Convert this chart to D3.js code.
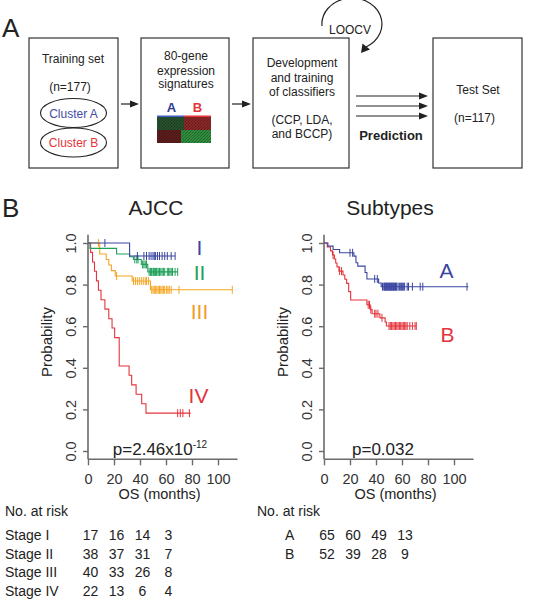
<!DOCTYPE html>
<html><head><meta charset="utf-8">
<script src="https://cdn.jsdelivr.net/npm/d3@7"></script>
<style>
body{margin:0;background:#fff}
svg{display:block}
text{font-family:"Liberation Sans",Arial,Helvetica,sans-serif;fill:#222}
</style>
</head><body>
<svg id="c" width="533" height="599"></svg>
<script>
// ---------------- DATA ----------------
const monthTicks = [0, 20, 40, 60, 80, 100];
const probTicks = [0, 0.2, 0.4, 0.6, 0.8, 1.0];

// AJCC stage curves (step times in months, survival after each step)
const stageI_t = [0, 32];
const stageI_s = [1, 0.9375];
const stageI_end = 67;
const stageI_cens = [13, 38, 43, 45, 47, 48.5, 50, 51, 52, 53.5, 55, 57, 59, 61, 64, 67];

const stageII_t = [0, 1.5, 22, 32, 35, 41, 46];
const stageII_s = [1, 0.974, 0.947, 0.934, 0.921, 0.897, 0.861];
const stageII_end = 69;
const stageII_cens = [36, 37.5, 38.5, 42, 43, 44, 45, 47, 48, 48.5, 49, 50, 50.5, 51, 52, 52.5, 53, 54, 55, 56, 57, 58, 59, 61, 62, 63, 64, 65, 67, 69];

const stageIII_t = [0, 9, 14, 16, 18, 21, 34, 48];
const stageIII_s = [1, 0.947, 0.921, 0.894, 0.867, 0.841, 0.817, 0.775];
const stageIII_end = 111;
const stageIII_cens = [8, 22, 35, 36.5, 38, 39.5, 41, 42.5, 44, 45, 46.5, 49, 50, 51, 52, 53, 54, 55, 56, 57, 58, 59, 60.5, 61.5, 62.5, 64, 70, 111];

const stageIV_t = [0, 2, 3.5, 5, 6.5, 8, 10, 13, 16, 18.5, 20.5, 24, 31.6, 33.6, 37, 41.3, 44.6];
const stageIV_s = [1, 0.955, 0.909, 0.864, 0.818, 0.773, 0.727, 0.682, 0.636, 0.591, 0.545, 0.409, 0.364, 0.318, 0.273, 0.227, 0.182];
const stageIV_end = 79;
const stageIV_cens = [69, 71, 73, 78];

// Subtype curves
const subA_t = [0, 3, 7, 12, 23, 24.6, 26, 31.6, 33, 42, 44];
const subA_s = [1, 0.985, 0.969, 0.953, 0.937, 0.905, 0.889, 0.858, 0.827, 0.808, 0.79];
const subA_end = 111;
const subA_cens = [20, 22, 39, 41, 45, 46, 46.5, 47, 47.5, 48, 48.5, 49, 49.5, 50, 50.5, 51, 51.5, 52, 52.5, 53, 53.5, 54, 54.5, 55, 55.5, 56, 57, 58, 59, 59.5, 60.5, 61, 62, 64, 65, 68, 74, 76, 110];

const subB_t = [0, 2.5, 5, 6.5, 8, 9, 10, 11.5, 14.6, 16, 17.4, 19, 20.5, 33, 35.5, 37, 43, 47, 48];
const subB_s = [1, 0.981, 0.962, 0.942, 0.923, 0.904, 0.885, 0.865, 0.846, 0.826, 0.806, 0.766, 0.726, 0.703, 0.68, 0.66, 0.64, 0.62, 0.601];
const subB_end = 71;
const subB_cens = [7, 12, 13.5, 34, 35, 36, 39, 40, 41.5, 44.6, 50, 51, 52, 53, 54, 55, 56, 57, 58, 59, 60, 61, 62, 63, 64, 66, 68, 70, 71];

// numbers at risk
const riskTimes = [0, 20, 40, 60];
const stageNames = ["Stage I", "Stage II", "Stage III", "Stage IV"];
const riskStage = [[17, 16, 14, 3], [38, 37, 31, 7], [40, 33, 26, 8], [22, 13, 6, 4]];
const subtypeNames = ["A", "B"];
const riskSubtype = [[65, 60, 49, 13], [52, 39, 28, 9]];

// ---------------- DRAWING ----------------
const BLUE = "#3a45a0", GREEN = "#22a05a", ORANGE = "#f5a623", RED = "#e3343b";
const FONT = "'Liberation Sans', Arial, sans-serif";
const svg = d3.select("#c");

function txt(x, y, s, size, opts = {}) {
  const t = svg.append("text").attr("x", x).attr("y", y).text(s)
    .style("font-size", size + "px")
    .attr("text-anchor", opts.anchor || "middle");
  if (opts.fill) t.style("fill", opts.fill);
  if (opts.bold) t.style("font-weight", "bold");
  return t;
}
function arrow(x1, x2, y) {
  svg.append("line").attr("x1", x1).attr("x2", x2 - 6).attr("y1", y).attr("y2", y)
    .attr("stroke", "#222").attr("stroke-width", 1.2);
  svg.append("path").attr("d", `M${x2},${y} L${x2 - 9},${y - 3.5} L${x2 - 9},${y + 3.5} Z`).attr("fill", "#222");
}

// ----- Panel A -----
txt(2, 37, "A", 26, { anchor: "start" });
const boxes = [[29, 38, 89, 130], [141, 38, 88, 130], [253, 38, 96, 130], [433, 38, 89, 130]];
boxes.forEach(b => svg.append("rect").attr("x", b[0]).attr("y", b[1]).attr("width", b[2]).attr("height", b[3])
  .attr("fill", "none").attr("stroke", "#333").attr("stroke-width", 1.2));

txt(73, 63, "Training set", 12);
txt(70, 91, "(n=177)", 12);
svg.append("ellipse").attr("cx", 73.5).attr("cy", 113).attr("rx", 33).attr("ry", 14.5).attr("fill", "none").attr("stroke", "#222").attr("stroke-width", 1.1);
svg.append("ellipse").attr("cx", 73.5).attr("cy", 142.5).attr("rx", 33).attr("ry", 14.5).attr("fill", "none").attr("stroke", "#222").attr("stroke-width", 1.1);
txt(73.5, 117.5, "Cluster A", 12, { fill: "#454ba3" });
txt(73.5, 147, "Cluster B", 12, { fill: RED });

arrow(121, 139, 104);
txt(186, 60, "80-gene", 12);
txt(186, 74.5, "expression", 12);
txt(186, 88, "signatures", 12);
txt(171.5, 112, "A", 13, { bold: true, fill: "#2e3d94" });
txt(197.5, 112, "B", 13, { bold: true, fill: RED });

// heatmap thumbnail
const defs = svg.append("defs");
const pat = defs.append("pattern").attr("id", "tex").attr("width", 3).attr("height", 3).attr("patternUnits", "userSpaceOnUse");
pat.append("rect").attr("x", 0).attr("y", 0).attr("width", 1).attr("height", 1).attr("fill", "#000").attr("opacity", 0.3);
pat.append("rect").attr("x", 2).attr("y", 1).attr("width", 1).attr("height", 1).attr("fill", "#000").attr("opacity", 0.25);
pat.append("rect").attr("x", 1).attr("y", 2).attr("width", 1).attr("height", 1).attr("fill", "#000").attr("opacity", 0.2);
const hm = [[157, 117, 27, 13, "#27502c"], [184, 117, 27, 13, "#8a2727"], [157, 130, 24, 13, "#5e1d1d"], [181, 130, 30, 13, "#2f8c3d"]];
hm.forEach(r => {
  svg.append("rect").attr("x", r[0]).attr("y", r[1]).attr("width", r[2]).attr("height", r[3]).attr("fill", r[4]);
  svg.append("rect").attr("x", r[0]).attr("y", r[1]).attr("width", r[2]).attr("height", r[3]).attr("fill", "url(#tex)");
});
svg.append("rect").attr("x", 157).attr("y", 115.5).attr("width", 27).attr("height", 1.6).attr("fill", "#3a5fc0");
svg.append("rect").attr("x", 184).attr("y", 115.5).attr("width", 27).attr("height", 1.6).attr("fill", RED);

arrow(232, 251, 104);
txt(302, 67, "Development", 12);
txt(302, 81.5, "and training", 12);
txt(302, 95.5, "of classifiers", 12);
txt(302, 123.5, "(CCP, LDA,", 12);
txt(302, 138, "and BCCP)", 12);

// LOOCV loop
svg.append("path").attr("d", "M322,26 A30,26 0 1,1 366,47").attr("fill", "none").attr("stroke", "#222").attr("stroke-width", 1.2);
svg.append("path").attr("d", "M361,53 L362.5,43.5 L370,49.5 Z").attr("fill", "#222");
txt(350, 33.5, "LOOCV", 12);

arrow(356, 428, 96);
arrow(356, 428, 106);
arrow(356, 428, 116);
txt(391, 139.5, "Prediction", 13, { bold: true });
txt(478, 93.5, "Test Set", 12);
txt(474.5, 121.5, "(n=117)", 12);

// ----- Panel B -----
txt(2, 217, "B", 26, { anchor: "start" });
txt(156, 215, "AJCC", 21);
txt(390, 215, "Subtypes", 21);

const y = d3.scaleLinear().domain([0, 1]).range([451, 243]);

function panel(x0, curves, labels, pText, pSup, pX) {
  const x = d3.scaleLinear().domain([0, 100]).range([x0, x0 + 130]);
  const g = svg.append("g");
  const axisCol = "#6b6b6b";
  // L-shaped frame
  g.append("line").attr("x1", x0).attr("x2", x0).attr("y1", y(1.04)).attr("y2", y(-0.04)).attr("stroke", axisCol).attr("stroke-width", 1.6);
  g.append("line").attr("x1", x0).attr("x2", x(115)).attr("y1", y(-0.04)).attr("y2", y(-0.04)).attr("stroke", axisCol).attr("stroke-width", 1.6);

  const ax = g.append("g").attr("transform", `translate(0,${y(-0.04)})`)
    .call(d3.axisBottom(x).tickValues(monthTicks).tickSize(6).tickSizeOuter(0).tickFormat(d3.format("d")));
  ax.select(".domain").remove();
  ax.selectAll("line").attr("stroke", axisCol).attr("stroke-width", 1.4);
  ax.selectAll("text").attr("y", 24.5).attr("dy", null).style("font-size", "14.5px").style("font-family", FONT).style("fill", "#333");

  const ay = g.append("g").attr("transform", `translate(${x0},0)`)
    .call(d3.axisLeft(y).tickValues(probTicks).tickSize(5).tickSizeOuter(0).tickFormat(d3.format(".1f")));
  ay.select(".domain").remove();
  ay.selectAll("line").attr("stroke", axisCol).attr("stroke-width", 1.4);
  ay.selectAll("text").attr("x", null).attr("dy", null).attr("text-anchor", "middle")
    .attr("transform", "translate(-12.5,0) rotate(-90)")
    .style("font-size", "14.5px").style("font-family", FONT).style("fill", "#333");

  svg.append("text").attr("transform", `translate(${x0 - 36.5},342) rotate(-90)`).attr("text-anchor", "middle")
    .style("font-size", "15px").text("Probability");
  txt(x(55), 499, "OS (months)", 14.5);

  curves.forEach(c => {
    const pts = c.t.map((t, i) => [t, c.s[i]]);
    pts.push([c.end, c.s[c.s.length - 1]]);
    const line = d3.line().x(d => x(d[0])).y(d => y(d[1])).curve(d3.curveStepAfter);
    g.append("path").attr("d", line(pts)).attr("fill", "none").attr("stroke", c.color).attr("stroke-width", 1.1);
    const lvl = v => c.s[d3.bisectRight(c.t, v) - 1];
    g.selectAll(null).data(c.cens).join("line")
      .attr("x1", d => x(d)).attr("x2", d => x(d))
      .attr("y1", d => y(lvl(d)) - 4).attr("y2", d => y(lvl(d)) + 4)
      .attr("stroke", c.color).attr("stroke-width", 1);
  });
  labels.forEach(l => txt(l[0], l[1], l[2], 21, { fill: l[3] }));

  const p = svg.append("text").attr("x", pX).attr("y", 455).attr("text-anchor", "middle").style("font-size", "17px");
  p.append("tspan").text(pText);
  if (pSup) p.append("tspan").attr("dy", -7).style("font-size", "10px").text(pSup);
  return x;
}

const xL = panel(88, [
  { t: stageIV_t, s: stageIV_s, end: stageIV_end, cens: stageIV_cens, color: RED },
  { t: stageIII_t, s: stageIII_s, end: stageIII_end, cens: stageIII_cens, color: ORANGE },
  { t: stageII_t, s: stageII_s, end: stageII_end, cens: stageII_cens, color: GREEN },
  { t: stageI_t, s: stageI_s, end: stageI_end, cens: stageI_cens, color: BLUE }
], [[199.5, 255, "I", BLUE], [199.5, 280, "II", GREEN], [199.5, 319, "III", "#f39a2a"], [198.5, 403, "IV", RED]],
  "p=2.46x10", "-12", 160);

const xR = panel(324, [
  { t: subB_t, s: subB_s, end: subB_end, cens: subB_cens, color: RED },
  { t: subA_t, s: subA_s, end: subA_end, cens: subA_cens, color: BLUE }
], [[446.5, 278, "A", BLUE], [447.5, 342, "B", RED]], "p=0.032", null, 383);

// ----- numbers at risk tables -----
const rowY = [540, 558.5, 577, 595.5];
txt(5, 516, "No. at risk", 14, { anchor: "start" });
stageNames.forEach((n, i) => {
  txt(5, rowY[i], n, 14, { anchor: "start" });
  riskStage[i].forEach((v, j) => txt(xL(riskTimes[j]) + 2.5, rowY[i], v, 14));
});
txt(257, 516, "No. at risk", 14, { anchor: "start" });
subtypeNames.forEach((n, i) => {
  txt(285, rowY[i], n, 14, { anchor: "start" });
  riskSubtype[i].forEach((v, j) => txt(xR(riskTimes[j]) + 3, rowY[i], v, 14));
});
</script>
</body></html>
